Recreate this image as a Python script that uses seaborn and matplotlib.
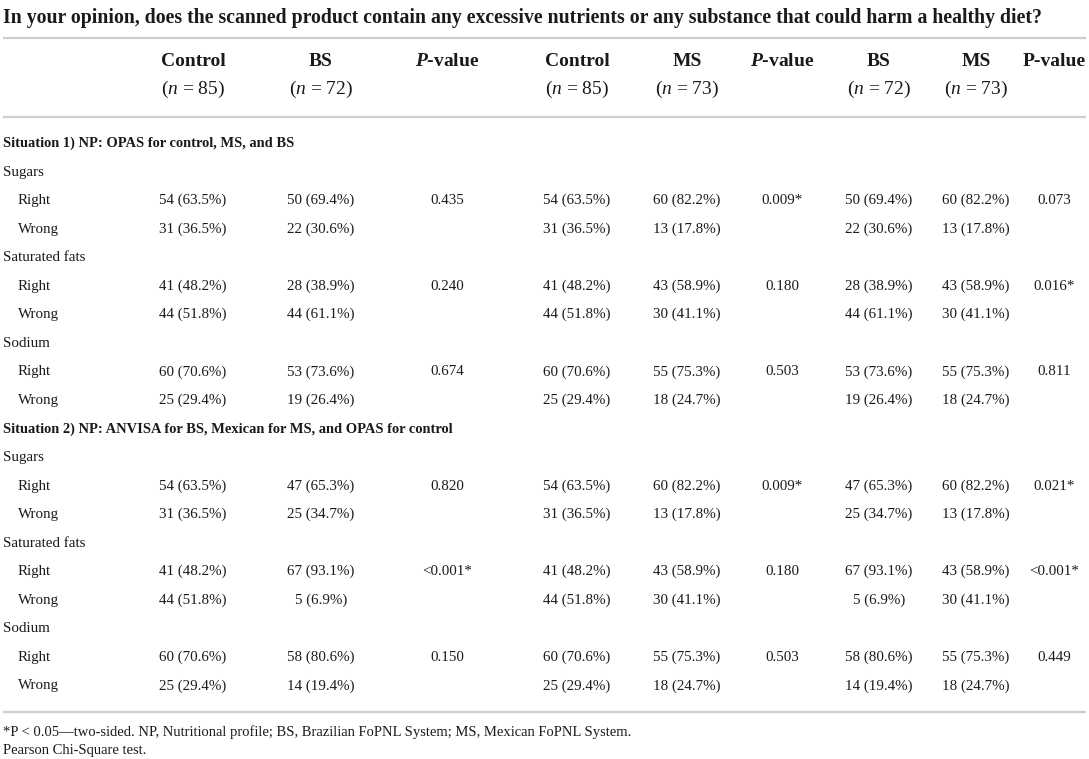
import matplotlib
matplotlib.use("Agg")
import matplotlib.pyplot as plt
import seaborn as sns

# ---------------- data ----------------
title = ("In your opinion, does the scanned product contain any excessive "
         "nutrients or any substance that could harm a healthy diet?")
group_names = ["Control", "BS", "P-value", "Control", "MS", "P-value", "BS", "MS", "P-value"]
group_n = ["85", "72", "", "85", "73", "", "72", "73", ""]
situations = ["Situation 1) NP: OPAS for control, MS, and BS",
              "Situation 2) NP: ANVISA for BS, Mexican for MS, and OPAS for control"]
nutrients = ["Sugars", "Saturated fats", "Sodium"]
answers = ["Right", "Wrong"]

# order: Sugars R/W, Saturated fats R/W, Sodium R/W
s1_control_counts = [54, 31, 41, 44, 60, 25]
s1_control_pct = [63.5, 36.5, 48.2, 51.8, 70.6, 29.4]
s1_bs_counts = [50, 22, 28, 44, 53, 19]
s1_bs_pct = [69.4, 30.6, 38.9, 61.1, 73.6, 26.4]
s1_ms_counts = [60, 13, 43, 30, 55, 18]
s1_ms_pct = [82.2, 17.8, 58.9, 41.1, 75.3, 24.7]
s1_p_control_bs = ["0.435", "0.240", "0.674"]
s1_p_control_ms = ["0.009*", "0.180", "0.503"]
s1_p_bs_ms = ["0.073", "0.016*", "0.811"]

s2_control_counts = [54, 31, 41, 44, 60, 25]
s2_control_pct = [63.5, 36.5, 48.2, 51.8, 70.6, 29.4]
s2_bs_counts = [47, 25, 67, 5, 58, 14]
s2_bs_pct = [65.3, 34.7, 93.1, 6.9, 80.6, 19.4]
s2_ms_counts = [60, 13, 43, 30, 55, 18]
s2_ms_pct = [82.2, 17.8, 58.9, 41.1, 75.3, 24.7]
s2_p_control_bs = ["0.820", "<0.001*", "0.150"]
s2_p_control_ms = ["0.009*", "0.180", "0.503"]
s2_p_bs_ms = ["0.021*", "<0.001*", "0.449"]

footnotes = ["*P < 0.05\u2014two-sided. NP, Nutritional profile; BS, Brazilian FoPNL System; "
             "MS, Mexican FoPNL System.",
             "Pearson Chi-Square test."]

# ---------------- style ----------------
sns.set_theme(style="white")
SERIF = "Liberation Serif"
plt.rcParams["font.family"] = [SERIF, "DejaVu Serif"]
plt.rcParams["mathtext.fontset"] = "custom"
plt.rcParams["mathtext.rm"] = SERIF
plt.rcParams["mathtext.it"] = SERIF + ":italic"
plt.rcParams["mathtext.sf"] = SERIF + ":bold:italic"
plt.rcParams["mathtext.bf"] = SERIF + ":bold"

W, H = 1089, 759
fig = plt.figure(figsize=(W / 100, H / 100), dpi=100)
ax = fig.add_axes([0, 0, 1, 1])
ax.set_xlim(0, W)
ax.set_ylim(H, 0)
ax.axis("off")

TXT = "#1a1a1a"
RULE = "#cfcfcf"
col_x = [193, 321, 447, 577, 687, 782, 879, 976, 1054]
left_x = 3
indent_x = 18
body_fs = 10.8
head_fs = 14.0

ax.text(left_x, 18, title, fontsize=14.2, fontweight="bold", color=TXT, va="center", ha="left")
for y in (38, 117, 712):
    ax.plot([left_x, 1086], [y, y], color=RULE, lw=1.6, solid_capstyle="butt")

# header
for i, (g, n) in enumerate(zip(group_names, group_n)):
    if g == "P-value":
        label = r"$\mathsf{P}$-value" if i < 8 else "P-value"
    else:
        label = g
    ax.text(col_x[i], 62, label, fontsize=head_fs, fontweight="bold", color=TXT,
            ha="center", va="center")
    if n:
        ax.text(col_x[i], 89, r"($n$ = " + n + ")", fontsize=head_fs, color=TXT,
                ha="center", va="center")

def fmt(c, p):
    return f"{c} ({p:.1f}%)"

sit_data = [
    (s1_control_counts, s1_control_pct, s1_bs_counts, s1_bs_pct, s1_ms_counts, s1_ms_pct,
     s1_p_control_bs, s1_p_control_ms, s1_p_bs_ms),
    (s2_control_counts, s2_control_pct, s2_bs_counts, s2_bs_pct, s2_ms_counts, s2_ms_pct,
     s2_p_control_bs, s2_p_control_ms, s2_p_bs_ms),
]

y0 = 142.5
step = 28.55
BASE = 4.5  # baseline offset from row centre
row = 0
for s_idx, sit in enumerate(situations):
    ax.text(left_x, y0 + step * row + BASE, sit, fontsize=10.45, fontweight="bold", color=TXT,
            ha="left", va="baseline")
    row += 1
    cc, cp, bc, bp, mc, mp, p_cb, p_cm, p_bm = sit_data[s_idx]
    for k, nut in enumerate(nutrients):
        ax.text(left_x, y0 + step * row + BASE, nut, fontsize=body_fs, color=TXT,
                ha="left", va="baseline")
        row += 1
        for a, ans in enumerate(answers):
            j = 2 * k + a
            y = y0 + step * row + BASE
            ax.text(indent_x, y, ans, fontsize=body_fs, color=TXT, ha="left", va="baseline")
            cells = [fmt(cc[j], cp[j]), fmt(bc[j], bp[j]), p_cb[k] if a == 0 else "",
                     fmt(cc[j], cp[j]), fmt(mc[j], mp[j]), p_cm[k] if a == 0 else "",
                     fmt(bc[j], bp[j]), fmt(mc[j], mp[j]), p_bm[k] if a == 0 else ""]
            for ci, txt in enumerate(cells):
                if txt:
                    ax.text(col_x[ci], y, txt, fontsize=body_fs, color=TXT,
                            ha="center", va="baseline")
            row += 1

ax.text(left_x, 736, footnotes[0], fontsize=10.5, color=TXT, ha="left", va="baseline")
ax.text(left_x, 754, footnotes[1], fontsize=10.5, color=TXT, ha="left", va="baseline")

fig.savefig("out.png", dpi=100, facecolor="white")
